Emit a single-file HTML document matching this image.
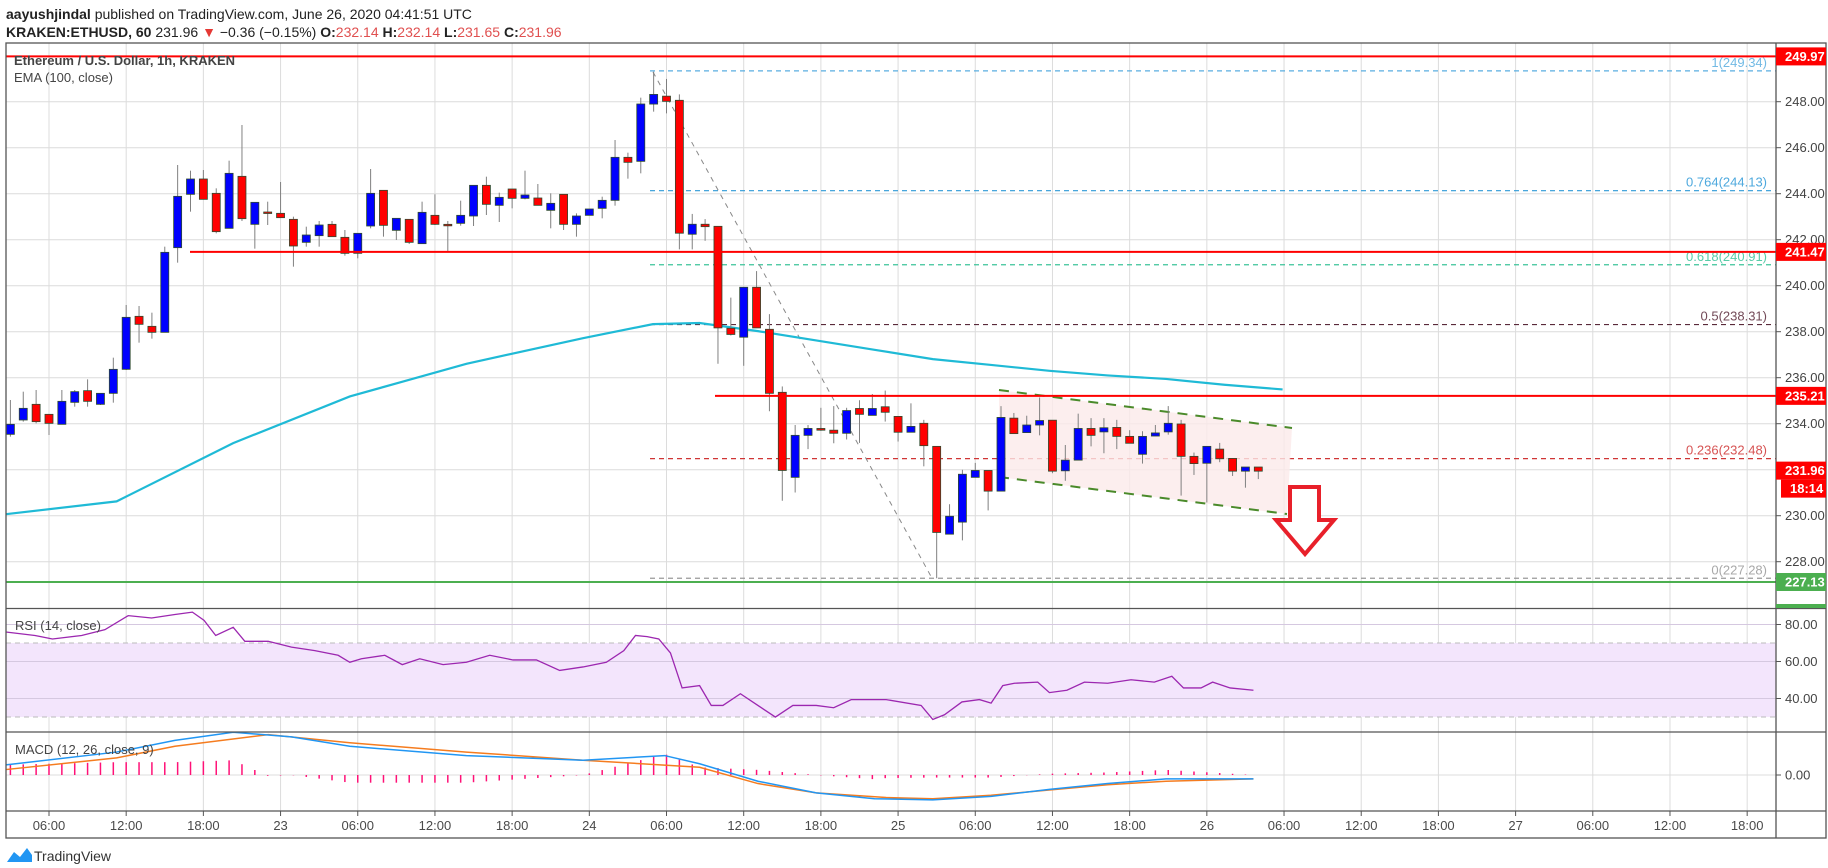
<!DOCTYPE html>
<html><head><meta charset="utf-8"><style>
body{margin:0;background:#fff;width:1828px;height:868px;overflow:hidden;font-family:"Liberation Sans",sans-serif}
svg{position:absolute;left:0;top:0}
</style></head><body>
<svg id="s" width="1828" height="868" xmlns="http://www.w3.org/2000/svg" font-family="Liberation Sans, sans-serif"></svg>
<script>
const S=document.getElementById('s');let h='';
const X=t=>-28.2+12.865*t, PY=p=>101.7+(248-p)*23.0;
const AX=1776,L=6,R=1826;
// grids
h+='<rect x="'+L+'" y="43" width="'+(R-L)+'" height="795" fill="#fff"/>';
for(let t=6;t<=138;t+=6){const x=X(t);h+=`<line x1="${x}" y1="43" x2="${x}" y2="811" stroke="#dcdcdc"/>`;}
for(let p=228;p<=248;p+=2){const y=PY(p);h+=`<line x1="${L}" y1="${y}" x2="${AX}" y2="${y}" stroke="#dcdcdc"/><line x1="${AX}" y1="${y}" x2="${AX+5}" y2="${y}" stroke="#555"/><text x="${AX+9}" y="${y+4.5}" font-size="13" fill="#444">${p.toFixed(2)}</text>`;}
// RSI band
h+=`<rect x="${L}" y="643" width="${AX-L}" height="74" fill="#f3e5fc"/>`;
[624.5,661.5,698.5].forEach((y,i)=>{h+=`<line x1="${L}" y1="${y}" x2="${AX}" y2="${y}" stroke="#d5c8e0"/><line x1="${AX}" y1="${y}" x2="${AX+5}" y2="${y}" stroke="#555"/><text x="${AX+9}" y="${y+4.5}" font-size="13" fill="#444">${['80.00','60.00','40.00'][i]}</text>`;});
[643,717].forEach(y=>h+=`<line x1="${L}" y1="${y}" x2="${AX}" y2="${y}" stroke="#bbb" stroke-dasharray="5,4"/>`);
h+=`<line x1="${L}" y1="775" x2="${AX}" y2="775" stroke="#dcdcdc"/><line x1="${AX}" y1="775" x2="${AX+5}" y2="775" stroke="#555"/><text x="${AX+9}" y="779.5" font-size="13" fill="#444">0.00</text>`;
// fib lines
const fib=[[249.34,'#5aaee0','1(249.34)'],[244.13,'#2f9ad8','0.764(244.13)'],[240.91,'#3cc49a','0.618(240.91)'],[238.31,'#5a2a3a','0.5(238.31)'],[232.48,'#d03535','0.236(232.48)'],[227.28,'#999','0(227.28)']];
fib.forEach(f=>{const y=PY(f[0]);h+=`<line x1="650" y1="${y}" x2="${AX}" y2="${y}" stroke="${f[1]}" stroke-width="1.2" stroke-dasharray="5,4"/><text x="1767" y="${y-4}" text-anchor="end" font-size="13" fill="${f[1]}" opacity="0.85">${f[2]}</text>`;});
// channel
h+=`<polygon points="999,390 1292,428 1287,514 999,477" fill="#fbeaea" opacity="0.8"/>`;
h+=`<line x1="999" y1="390" x2="1292" y2="428" stroke="#4a8a2a" stroke-width="2" stroke-dasharray="10,8"/><line x1="999" y1="477" x2="1287" y2="514" stroke="#4a8a2a" stroke-width="2" stroke-dasharray="10,8"/>`;
// diagonal
h+=`<line x1="653" y1="72" x2="933" y2="580" stroke="#888" stroke-dasharray="5,5"/>`;
// EMA
const ema=[[5,441],[100,430],[200,380],[300,340],[400,312],[500,290],[560,278],[600,277],[650,284],[700,292],[750,300],[800,308],[850,313],[900,318],[950,322],[1000,325],[1050,330],[1100,334]];
h+=`<polyline fill="none" stroke="#1fbad6" stroke-width="2.2" points="${ema.map(p=>(p[0]*1.166)+','+(p[1]*1.166)).join(' ')}"/>`;
// candles [h,color,bt,bb,wh,wl] zoom coords
const c5=[[3,'b',1093,1123,1020,1130],[4,'b',1045,1080,995,1085],[5,'r',1033,1085,990,1090],[6,'r',1063,1090,1063,1125],[7,'b',1024,1093,990,1093],[8,'b',995,1027,990,1040],[9,'r',992,1024,958,1040],[10,'b',1000,1033,1000,1035],[11,'b',928,1000,893,1028],[12,'b',772,928,735,930],[13,'r',769,793,738,848],[14,'r',799,817,758,836],[15,'b',577,817,560,817],[16,'b',409,563,315,608],[17,'b',357,403,332,455],[18,'r',357,418,330,418],[19,'r',400,515,385,520],[20,'b',340,505,302,505],[21,'r',349,476,195,483],[22,'b',427,493,427,566],[23,'r',456,458,425,495],[24,'r',460,473,366,473],[25,'r',478,558,470,620],[26,'b',525,547,500,560],[27,'b',495,527,483,560],[28,'r',493,530,483,530],[29,'r',532,580,510,587],[30,'b',520,580,520,595],[31,'b',400,498,327,505],[32,'r',391,496,391,530],[33,'b',475,511,475,540],[34,'r',478,547,478,552],[35,'b',457,551,425,551],[36,'r',466,493,403,495],[37,'r',493,497,483,573],[38,'b',466,490,422,497],[39,'b',376,468,376,498],[40,'r',376,433,350,465],[41,'b',412,436,398,486],[42,'r',387,415,387,445],[43,'b',405,415,332,418],[44,'r',414,436,372,436],[45,'b',430,451,400,505],[46,'r',403,493,403,510],[47,'b',468,493,460,530],[48,'b',447,466,447,466],[49,'b',421,445,410,475],[50,'b',292,421,240,437],[51,'r',292,307,278,356],[52,'b',132,304,113,340]];
const c6=[[53,'b',100,128,35*0.97,150],[54,'r',105,120,55,155],[55,'r',117,503,100,550],[56,'b',477,506,447,550],[57,'r',477,484,462,525],[58,'r',483,778,483,882],[59,'r',779,797,690,800],[60,'b',660,805,660,888],[61,'r',660,778,613,778],[62,'r',782,968,738,1020],[63,'r',965,1192,948,1280],[64,'b',1090,1212,1060,1256],[65,'b',1070,1090,1060,1130],[66,'r',1070,1075,1010,1077],[67,'r',1075,1084,1005,1113],[68,'b',1018,1084,1010,1102],[69,'r',1012,1029,988,1112],[70,'b',1012,1032,970,1032],[71,'r',1007,1023,960,1050],[72,'r',1035,1081,1035,1108],[73,'b',1064,1081,997,1081],[74,'r',1055,1120,1045,1180],[75,'r',1122,1372,1122,1505],[76,'b',1325,1377,1290,1377],[77,'b',1203,1342,1190,1395],[78,'b',1192,1212,1170,1212],[79,'r',1192,1252,1192,1308],[80,'b',1038,1252,1005,1252],[81,'r',1040,1085,1025,1085],[82,'b',1060,1082,1033,1082],[83,'b',1047,1060,980,1090],[84,'r',1046,1194,1046,1200],[85,'b',1162,1193,1118,1222],[86,'b',1070,1162,1027,1162],[87,'r',1070,1090,1040,1122],[88,'b',1068,1080,1040,1142],[89,'r',1067,1093,1045,1130],[90,'r',1093,1113,1075,1113],[91,'b',1093,1145,1078,1172],[92,'b',1083,1092,1060,1092],[93,'b',1055,1080,1005,1088],[94,'r',1057,1151,1045,1265],[95,'r',1151,1172,1140,1205],[96,'b',1122,1171,1122,1285],[97,'r',1130,1158,1112,1168],[98,'r',1157,1194,1157,1208],[99,'b',1182,1194,1182,1242],[100,'r',1182,1194,1182,1217]];
function cand(c,f){const x=X(c[0]);const bt=f(c[2]),bb=Math.max(f(c[3]),f(c[2])+1.5),wh=f(c[4]),wl=f(c[5]);
h+=`<line x1="${x}" y1="${wh}" x2="${x}" y2="${wl}" stroke="#808080"/><rect x="${x-4}" y="${bt}" width="8" height="${bb-bt}" fill="${c[1]=='b'?'#0000ff':'#ff0000'}" stroke="#2e4a2e" stroke-width="0.8"/>`;}
c5.forEach(c=>cand(c,y=>60+y/3));c6.forEach(c=>cand(c,y=>60+y/2.904));
// red horizontal lines
h+=`<line x1="${L}" y1="56.4" x2="${AX}" y2="56.4" stroke="#ff0000" stroke-width="2"/>`;
h+=`<line x1="190" y1="${PY(241.47)}" x2="${AX}" y2="${PY(241.47)}" stroke="#ff0000" stroke-width="2"/>`;
h+=`<line x1="715" y1="${PY(235.21)}" x2="${AX}" y2="${PY(235.21)}" stroke="#ff0000" stroke-width="2"/>`;
h+=`<line x1="${L}" y1="582" x2="${AX}" y2="582" stroke="#4caf50" stroke-width="2"/>`;
// arrow
h+=`<polygon points="1290,487 1319,487 1319,520 1334,520 1305,554 1276,520 1290,520" fill="#fff" stroke="#e8202a" stroke-width="4"/>`;
// RSI
const rsi=[[5,542],[30,545],[45,548],[70,545],[90,540],[110,528],[130,530],[150,527],[165,525],[175,532],[185,545],[200,538],[210,550],[230,550],[250,555],[270,558],[290,562],[300,568],[310,565],[330,562],[345,570],[360,565],[380,570],[400,568],[420,562],[440,566],[460,566],[480,575],[500,572],[520,568],[535,558],[545,545],[555,546],[565,548],[575,560],[585,590],[600,588],[610,605],[620,605],[635,595],[650,605],[665,615],[680,605],[700,605],[715,607],[730,600],[760,600],[790,605],[800,617],[810,613],[825,602],[840,600],[850,603],[860,588],[870,586],[890,585],[900,594],[915,592],[930,585],[950,586],[970,583],[990,585],[1005,580],[1015,590],[1030,590],[1040,585],[1055,590],[1075,592]];
h+=`<polyline fill="none" stroke="#9c27b0" stroke-width="1.3" points="${rsi.map(p=>(p[0]*1.166)+','+(p[1]*1.166)).join(' ')}"/>`;
// MACD
const mb=[[5,656],[100,645],[150,635],[200,628],[250,632],[300,640],[400,648],[500,652],[570,648],[600,655],[650,670],[700,680],[750,685],[800,686],[850,683],[900,677],[950,672],[1000,668],[1075,668]];
const mo=[[5,660],[100,650],[150,640],[230,630],[300,637],[400,645],[500,652],[600,658],[650,672],[700,680],[760,684],[800,685],[850,682],[950,673],[1000,670],[1075,668]];
const itp=(a,x)=>{for(let i=1;i<a.length;i++)if(x<=a[i][0]){const t=(x-a[i-1][0])/(a[i][0]-a[i-1][0]);return a[i-1][1]+t*(a[i][1]-a[i-1][1]);}return a[a.length-1][1];};
for(let t=3;t<=100;t++){const xp=X(t)/1.166;const d=(itp(mo,xp)-itp(mb,xp))*1.166*2.2;h+=`<line x1="${X(t)}" y1="775" x2="${X(t)}" y2="${775-d}" stroke="#ff1177" stroke-width="1.5"/>`;}
h+=`<polyline fill="none" stroke="#f57c1f" stroke-width="1.5" points="${mo.map(p=>(p[0]*1.166)+','+(p[1]*1.166)).join(' ')}"/>`;
h+=`<polyline fill="none" stroke="#2196f3" stroke-width="1.5" points="${mb.map(p=>(p[0]*1.166)+','+(p[1]*1.166)).join(' ')}"/>`;
// pane borders
h+=`<rect x="${L}" y="43" width="${R-L}" height="795" fill="none" stroke="#555" stroke-width="1.3"/>`;
[608.5,732,811].forEach(y=>h+=`<line x1="${L}" y1="${y}" x2="${R}" y2="${y}" stroke="#555" stroke-width="1.3"/>`);
h+=`<line x1="${AX}" y1="43" x2="${AX}" y2="838" stroke="#555" stroke-width="1.3"/>`;
// time labels
const tl=['06:00','12:00','18:00','23','06:00','12:00','18:00','24','06:00','12:00','18:00','25','06:00','12:00','18:00','26','06:00','12:00','18:00','27','06:00','12:00','18:00'];
tl.forEach((s,i)=>{const x=X(6+6*i);h+=`<line x1="${x}" y1="811" x2="${x}" y2="816" stroke="#555"/><text x="${x}" y="830" text-anchor="middle" font-size="13" fill="#4a4a4a">${s}</text>`;});
// axis price boxes
function box(y,txt,col,x0=AX){h+=`<rect x="${x0}" y="${y-9}" width="${R-x0}" height="18" fill="${col}"/><text x="${x0+9}" y="${y+4.5}" font-size="13" font-weight="bold" fill="#fff">${txt}</text>`;}
box(56.4,'249.97','#ff0000');box(PY(241.47),'241.47','#ff0000');box(PY(235.21),'235.21','#ff0000');box(PY(231.96),'231.96','#ff0000');box(PY(231.96)+18,'18:14','#ff0000',1781);box(582,'227.13','#4caf50');
h+=`<rect x="${AX}" y="604" width="${R-AX}" height="4" fill="#4caf50"/>`;
// texts
h+=`<text x="6" y="19" font-size="14" fill="#222"><tspan font-weight="bold">aayushjindal</tspan> published on TradingView.com, June 26, 2020 04:41:51 UTC</text>`;
h+=`<text x="6" y="37" font-size="14" fill="#222"><tspan font-weight="bold">KRAKEN:ETHUSD, 60</tspan> 231.96 <tspan fill="#e53935">▼</tspan> −0.36 (−0.15%) <tspan font-weight="bold">O:</tspan><tspan fill="#e05050">232.14</tspan> <tspan font-weight="bold">H:</tspan><tspan fill="#e05050">232.14</tspan> <tspan font-weight="bold">L:</tspan><tspan fill="#e05050">231.65</tspan> <tspan font-weight="bold">C:</tspan><tspan fill="#e05050">231.96</tspan></text>`;
h+=`<text x="14" y="65" font-size="13" font-weight="bold" fill="#444">Ethereum / U.S. Dollar, 1h, KRAKEN</text><text x="14" y="82" font-size="13" fill="#444">EMA (100, close)</text>`;
h+=`<text x="15" y="630" font-size="13" fill="#444">RSI (14, close)</text><text x="15" y="754" font-size="13" fill="#444">MACD (12, 26, close, 9)</text>`;
h+=`<path d="M7,862 L14,852 L20,857 L27,848 L32,855 L32,862 Z" fill="#2196f3"/><text x="34" y="861" font-size="14" fill="#333">TradingView</text>`;
S.innerHTML=h;
</script>
</body></html>
